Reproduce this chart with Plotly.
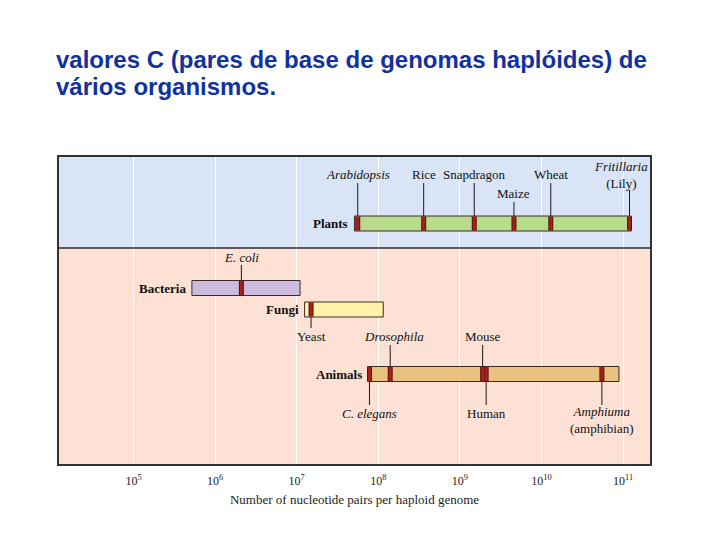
import numpy as np
import plotly.graph_objects as go

# ---------------- data ----------------
title_lines = ["valores C (pares de base de genomas haplóides) de", "vários organismos."]

groups = ["Plants", "Bacteria", "Fungi", "Animals"]
group_start = [5.1e7, 5.2e5, 1.25e7, 7.4e7]
group_end = [1.26e11, 1.1e7, 1.15e8, 8.9e10]
group_colors = ["#b8dc8c", "#cbbbdd", "#fef3a8", "#e9c27f"]

plant_species = ["<i>Arabidopsis</i>", "Rice", "Snapdragon", "Maize", "Wheat", "<i>Fritillaria</i><br>(Lily)"]
plant_values = [5.6e7, 3.6e8, 1.5e9, 4.6e9, 1.3e10, 1.2e11]

bacteria_species = ["<i>E. coli</i>"]
bacteria_values = [2.1e6]

fungi_species = ["Yeast"]
fungi_values = [1.5e7]

animal_species = ["<i>C. elegans</i>", "<i>Drosophila</i>", "Mouse", "Human", "<i>Amphiuma</i><br>(amphibian)"]
animal_values = [7.8e7, 1.4e8, 1.9e9, 2.1e9, 5.5e10]

tick_exponents = [5, 6, 7, 8, 9, 10, 11]

# ---------------- layout geometry (pixel offsets from plot top) ----------------
row_y = [66.5, 131, 152.5, 217]
bar_h = 15
split_y = 91
PH = 307

SERIF = "Liberation Serif"

fig = go.Figure()

# background regions
fig.add_shape(type="rect", xref="paper", yref="y", x0=0, x1=1, y0=0, y1=split_y,
              fillcolor="#d9e5f7", line_width=0, layer="below")
fig.add_shape(type="rect", xref="paper", yref="y", x0=0, x1=1, y0=split_y, y1=PH,
              fillcolor="#fde1d5", line_width=0, layer="below")
fig.add_shape(type="line", xref="paper", yref="y", x0=0, x1=1, y0=split_y, y1=split_y,
              line=dict(color="#2a2a2a", width=1.5), layer="above")

# group bars
for g, s, e, c, y in zip(groups, group_start, group_end, group_colors, row_y):
    fig.add_trace(go.Bar(orientation="h", y=[y], base=[s], x=[e - s], width=bar_h,
                         marker=dict(color=c, line=dict(color="#3a2a2a", width=1)),
                         showlegend=False, hoverinfo="skip"))
    fig.add_annotation(x=np.log10(s), y=y, text="<b>%s</b>" % g, showarrow=False,
                       xanchor="right", yanchor="middle", xshift=-4,
                       font=dict(family=SERIF, size=13, color="#111"))

# species specs: (values, names, row index, label y, line start y, xshifts, side)
specs = [
    (plant_values, plant_species, 0,
     [17, 17, 17, 36, 17, 18], [26, 26, 26, 45, 26, 33], [0, 0, 0, 0, 0, -9], "top"),
    (bacteria_values, bacteria_species, 1, [100], [108], [0], "top"),
    (fungi_values, fungi_species, 2, [179], [171], [0], "bottom"),
    (animal_values[1:3], animal_species[1:3], 3, [179, 179], [188, 188], [4, 0], "top"),
    ([animal_values[0], animal_values[3], animal_values[4]],
     [animal_species[0], animal_species[3], animal_species[4]], 3,
     [256, 256, 263], [248, 248, 248], [0, 0, 0], "bottom"),
]

lx, ly = [], []
for vals, names, ri, laby, liney, shifts, side in specs:
    yc = row_y[ri]
    edge = yc - bar_h / 2 if side == "top" else yc + bar_h / 2
    for v, n, ty, l0, sh in zip(vals, names, laby, liney, shifts):
        lx += [v, v, None]
        ly += [l0, edge, None]
        fig.add_annotation(x=np.log10(v), y=ty, text=n, showarrow=False,
                           xanchor="center", yanchor="middle",
                           xshift=sh, font=dict(family=SERIF, size=13, color="#111"))

fig.add_trace(go.Scatter(x=lx, y=ly, mode="lines", line=dict(color="#1a1a1a", width=1),
                         showlegend=False, hoverinfo="skip"))

# species markers
all_vals = [plant_values, bacteria_values, fungi_values, animal_values]
mx, my = [], []
for vals, yc in zip(all_vals, row_y):
    for v in vals:
        mx += [v, v, None]
        my += [yc - bar_h / 2 + 0.5, yc + bar_h / 2 - 0.5, None]
fig.add_trace(go.Scatter(x=mx, y=my, mode="lines", line=dict(color="#5a1210", width=5),
                         showlegend=False, hoverinfo="skip"))
fig.add_trace(go.Scatter(x=mx, y=my, mode="lines", line=dict(color="#a81f1c", width=3),
                         showlegend=False, hoverinfo="skip"))

# title (two lines placed individually)
for i, line in enumerate(title_lines):
    fig.add_annotation(xref="paper", yref="paper", x=-5 / 591, y=1 + (157 - 59 - 28 * i) / 307,
                       text="<b>%s</b>" % line, showarrow=False,
                       xanchor="left", yanchor="middle",
                       font=dict(family="Liberation Sans", size=24, color="#11329e"))

fig.update_layout(
    width=720, height=540,
    margin=dict(l=59, r=70, t=157, b=76),
    paper_bgcolor="white", plot_bgcolor="#fde1d5",
    barmode="overlay",
    xaxis=dict(type="log", range=[4.087, 11.33],
               tickvals=[10 ** e for e in tick_exponents],
               ticktext=["10<sup>%d</sup>" % e for e in tick_exponents],
               showgrid=True, gridcolor="white", gridwidth=1,
               ticks="outside", ticklen=5, tickcolor="rgba(0,0,0,0)",
               tickfont=dict(family=SERIF, size=12, color="#222"),
               showline=True, linecolor="#333", linewidth=1.5, mirror=True,
               zeroline=False,
               title=dict(text="Number of nucleotide pairs per haploid genome",
                          font=dict(family=SERIF, size=13, color="#222"), standoff=8)),
    yaxis=dict(range=[PH, 0], showgrid=False, showticklabels=False, zeroline=False,
               showline=True, linecolor="#333", linewidth=1.5, mirror=True, ticks=""),
)

fig.write_html("out.html")
